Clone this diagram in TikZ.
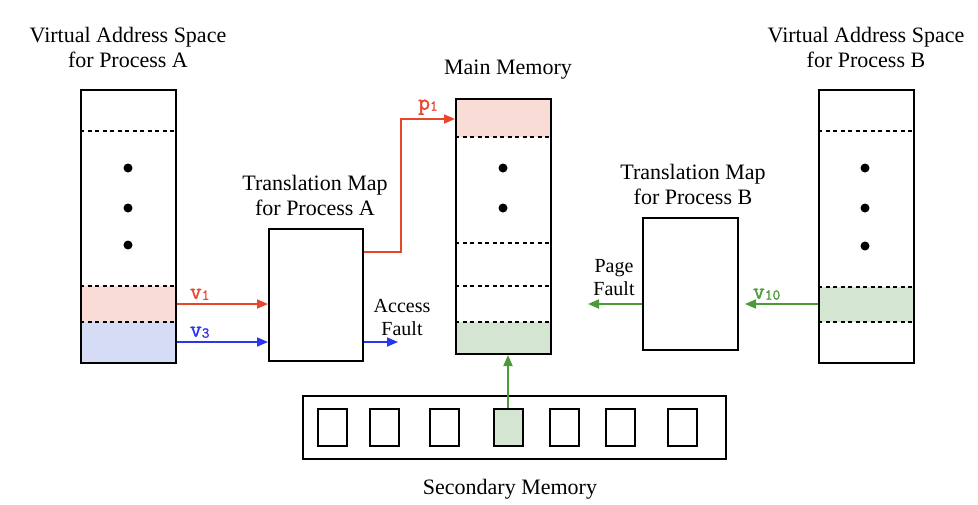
\documentclass[tikz,border=0pt]{standalone}
\usepackage{fontspec}
\setmainfont{Liberation Serif}
\newfontfamily\codefont{Latin Modern Mono}[FakeBold=1.5]
\usetikzlibrary{arrows.meta}
\definecolor{cred}{HTML}{E8452C}
\definecolor{cblue}{HTML}{2A35F0}
\definecolor{cgreen}{HTML}{4A9A38}
\definecolor{fpink}{HTML}{FADCD7}
\definecolor{fblue}{HTML}{D7DCF6}
\definecolor{fgreen}{HTML}{D4E6D1}
\newcommand\mylab[2]{{\codefont\bfseries\fontsize{23}{23}\selectfont #1\raisebox{-1pt}{\fontsize{15}{15}\selectfont #2}}}
\tikzset{
  box/.style={draw=black,line width=2pt,inner sep=0pt,minimum width=#1},
  sbox/.style={draw=black,line width=2pt,inner sep=0pt,minimum width=29pt,minimum height=37pt},
  sep/.style={dashed,dash pattern=on 4pt off 3.5pt,line width=1.7pt},
  arr/.style={line width=1.7pt,-{Triangle[length=11pt,width=9pt]}},
  title/.style={align=center,font=\fontsize{22}{25}\selectfont},
  small/.style={align=center,font=\fontsize{20}{23}\selectfont},
  pt/.style={fill=black,circle,inner sep=0pt,minimum size=9pt}
}
\begin{document}
\begin{tikzpicture}[x=1pt,y=-1pt]
\path[use as bounding box] (0,0) rectangle (978,504);
% fills
\fill[fpink] (81,286) rectangle (176,322);
\fill[fblue] (81,322) rectangle (176,363);
\fill[fpink] (456,99) rectangle (551,137);
\fill[fgreen] (456,322) rectangle (551,354);
\fill[fgreen] (819,287) rectangle (914,322);
% boxes
\node[box=95pt,minimum height=273pt] (vasA) at (128.5,226.5) {};
\node[box=94pt,minimum height=132pt] (mapA) at (316,295) {};
\node[box=95pt,minimum height=255pt] (mem) at (503.5,226.5) {};
\node[box=95pt,minimum height=132pt] (mapB) at (690.5,284) {};
\node[box=95pt,minimum height=273pt] (vasB) at (866.5,226.5) {};
\node[box=423pt,minimum height=63pt] (sec) at (514.5,427.5) {};
\node[sbox] (s1) at (332.5,427.5) {};
\node[sbox] (s2) at (384.5,427.5) {};
\node[sbox] (s3) at (444,427.5) {};
\node[sbox,fill=fgreen] (s4) at (508,427.5) {};
\node[sbox] (s5) at (564.5,427.5) {};
\node[sbox] (s6) at (620.5,427.5) {};
\node[sbox] (s7) at (682.5,427.5) {};
% dashed separators
\foreach \y in {131,286,322} \draw[sep] (vasA.west|-0,\y) -- (vasA.east|-0,\y);
\foreach \y in {137,243,286,322} \draw[sep] (mem.west|-0,\y) -- (mem.east|-0,\y);
\foreach \y in {131,287,322} \draw[sep] (vasB.west|-0,\y) -- (vasB.east|-0,\y);
% dots
\foreach \y in {168,208,245} \node[pt] at (128,\y) {};
\foreach \y in {168,208} \node[pt] at (503,\y) {};
\foreach \y in {168,208,246} \node[pt] at (865,\y) {};
% titles
\node[title] (tA) at (128,47) {Virtual Address Space\\for Process A};
\node[title] (tM) at (508,70) {Main Memory};
\node[title] (tB) at (866,47) {Virtual Address Space\\for Process B};
\node[title] (tmA) at (315,195) {Translation Map\\for Process A};
\node[title] (tmB) at (693,184) {Translation Map\\for Process B};
\node[title] (tS) at (510,489) {Secondary Memory};
\node[small] (af) at (402,317) {Access\\Fault};
\node[small] (pf) at (614,278) {Page\\Fault};
% coordinates
\coordinate (y1) at (0,304);
\coordinate (y3) at (0,342);
\coordinate (yp) at (0,252);
\coordinate (bend) at (401,119);
\coordinate (afEnd) at (398,342);
\coordinate (pfEnd) at (588,304);
% arrows
\draw[arr,cred] (vasA.east|-y1) -- (mapA.west|-y1) node[pos=0.25,above=0pt,text=cred] {\mylab{v}{1}};
\draw[arr,cblue] (vasA.east|-y3) -- (mapA.west|-y3) node[pos=0.25,above=0pt,text=cblue] {\mylab{v}{3}};
\draw[arr,cred] (mapA.east|-yp) -| (bend) -- (mem.west|-bend) node[midway,above=0pt,text=cred] {\mylab{p}{1}};
\draw[arr,cblue] (mapA.east|-y3) -- (afEnd);
\draw[arr,cgreen,shorten >=6pt] (vasB.west|-y1) -- (mapB.east|-y1) node[pos=0.65,above=0pt,text=cgreen] {\mylab{v}{10}};
\draw[arr,cgreen] (mapB.west|-y1) -- (pfEnd);
\draw[arr,cgreen] (s4.north) -- (s4.north|-mem.south);
\end{tikzpicture}
\end{document}
